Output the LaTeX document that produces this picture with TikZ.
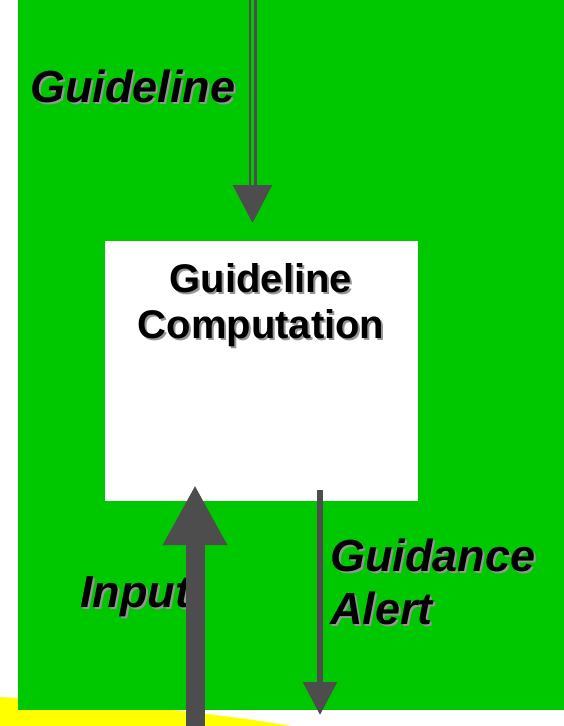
\documentclass[tikz,border=0pt]{standalone}
\usepackage{fontspec}
\setmainfont{Liberation Sans}
\usetikzlibrary{arrows.meta}
\definecolor{bggreen}{RGB}{0,200,0}
\definecolor{arrowgray}{RGB}{77,77,77}
\definecolor{shadowc}{RGB}{150,150,150}
\definecolor{ylw}{RGB}{255,255,0}
\newcommand\shd[1]{\rlap{\kern2pt\raisebox{-2pt}{\color{shadowc}#1}}#1}
\tikzset{
  lbl/.style={inner sep=0pt, font=\fontsize{45}{53}\selectfont\bfseries\itshape, text=black},
  boxtxt/.style={inner sep=0pt, align=center, font=\fontsize{40}{46}\selectfont\bfseries, text=black},
  compbox/.style={fill=white, draw=none, inner sep=0pt, minimum width=313pt, minimum height=260pt, anchor=north west},
}
\begin{document}
\begin{tikzpicture}[x=1pt,y=-1pt]
\useasboundingbox (0,0) rectangle (564,726);
\fill[white] (0,0) rectangle (564,726);
\fill[ylw] (0,697) .. controls (120,703) and (220,714) .. (292,726) -- (0,726) -- cycle;
\fill[bggreen] (18,0) rectangle (564,710);
\node[compbox] (comp) at (105,241) {};
\node[boxtxt, anchor=north] (comptext) at (261,263) {\shd{Guideline}\\\shd{Computation}};
\node[lbl, anchor=base west] (glabel) at (30,102) {\shd{Guideline}};
\node[lbl, anchor=base west] (ilabel) at (80,607) {\shd{Input}};
\node[lbl, anchor=north west, align=left] (alabel) at (330,539) {\shd{Guidance}\\\shd{Alert}};
% connectors
\coordinate (gtop) at (252.5,0);
\coordinate (gtip) at (252.5,223);
\coordinate (ibot) at (195,726);
\coordinate (itip) at (195,485);
\coordinate (atop) at (320,490);
\coordinate (atip) at (320,715);
\draw[arrowgray, line width=2.5pt, double=bggreen, double distance=3pt, -{Triangle[width=39pt,length=38pt]}] (gtop) -- (gtip);
\draw[arrowgray, line width=19pt, -{Triangle[width=60pt,length=60pt]}] (ibot) -- (itip);
\draw[arrowgray, line width=6pt, -{Triangle[width=33pt,length=33pt]}] (atop) -- (atip);
\end{tikzpicture}
\end{document}
